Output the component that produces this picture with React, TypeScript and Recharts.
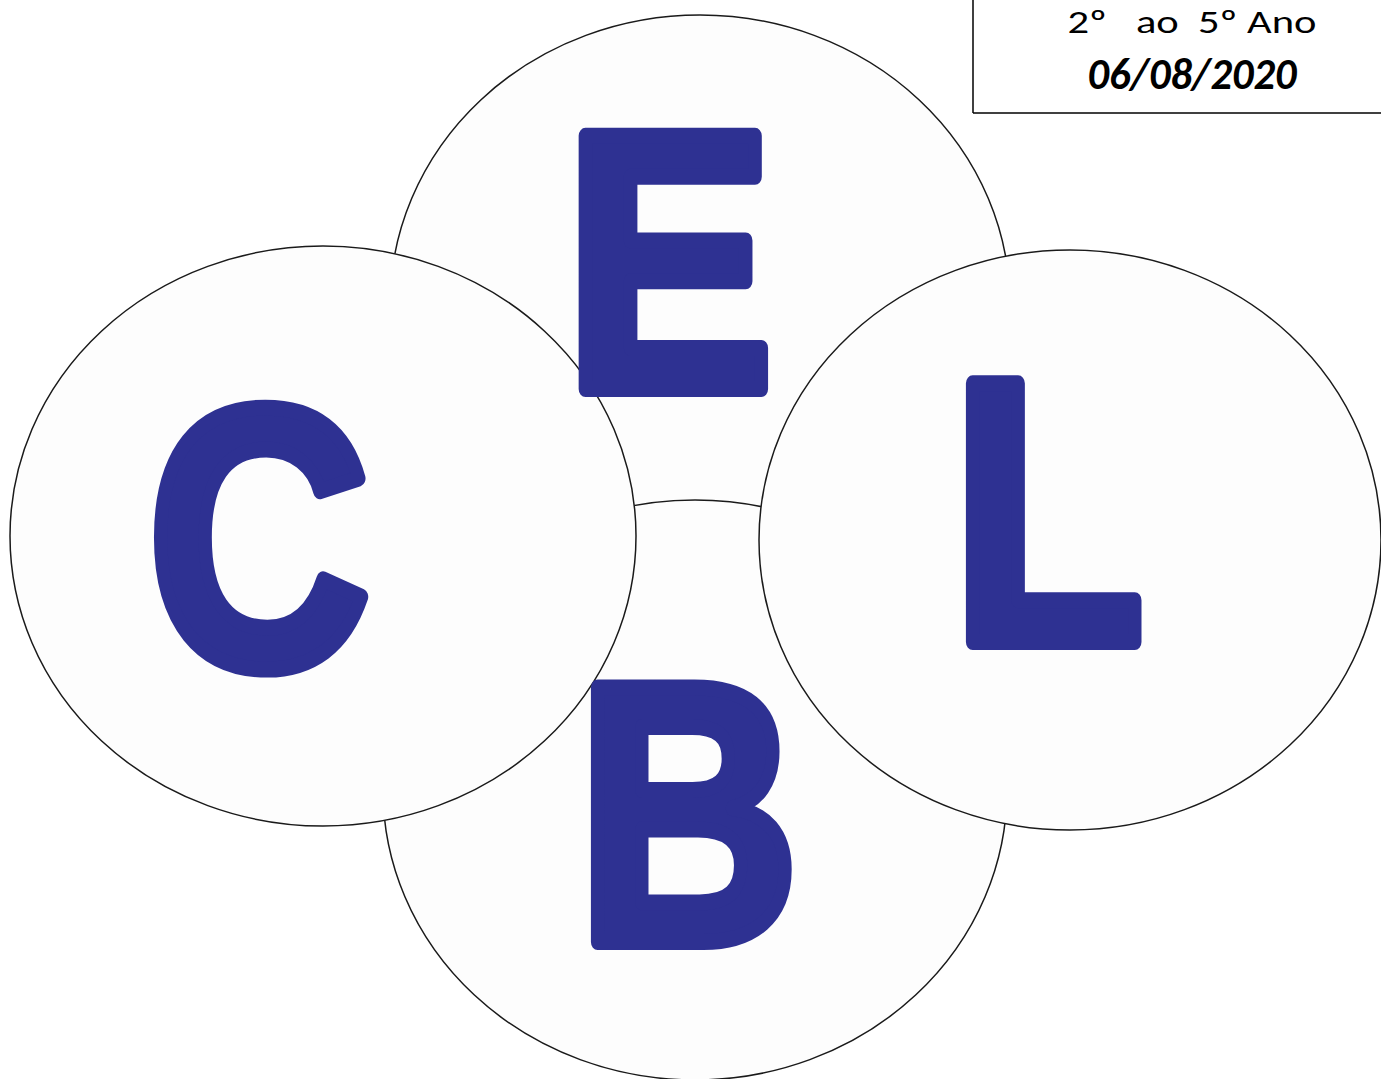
import { ScatterChart, Scatter, XAxis, YAxis, ReferenceLine } from 'recharts'

// circles in page pixels (domain = pixels, drawn in this order)
const circleNames = ['E', 'B', 'C', 'L']
const circleX = [700, 695, 323, 1070]
const circleY = [305, 790, 536, 540]
const circleRx = [310, 312, 313, 311]
const circleRy = [290, 290, 290, 290]

const letters = ['E', 'B', 'C', 'L']
const letterX = [669, 688, 259, 1048]
const letterY = [389, 942, 666, 642]
const letterWidth = [209, 222, 222, 193]
const letterSize = [368, 370, 370, 376]

const captionText = ['2º   ao  5º Ano', '06/08/2020']
const captionX = [1192, 1192]
const captionY = [33, 89]
const captionWidth = [249, 209]

const circles = circleNames.map((name, i) => ({
  name, x: circleX[i], y: circleY[i], rx: circleRx[i], ry: circleRy[i],
}))
const letterData = letters.map((t, i) => ({ t, x: letterX[i], y: letterY[i], w: letterWidth[i], s: letterSize[i] }))
const captionData = captionText.map((t, i) => ({ t, x: captionX[i], y: captionY[i], w: captionWidth[i], i }))

const Ellipse = (props: any) => (
  <ellipse cx={props.cx} cy={props.cy} rx={props.payload.rx} ry={props.payload.ry}
    fill="#fdfdfd" stroke="#1a1a1a" strokeWidth={1.5} />
)

const Letter = (props: any) => (
  <text x={props.cx} y={props.cy} textAnchor="middle" fontFamily="'Liberation Sans', Arial, sans-serif"
    fontWeight={700} fontSize={props.payload.s} fill="#2e3192" stroke="#2e3192" strokeWidth={16} strokeLinejoin="round"
    textLength={props.payload.w} lengthAdjust="spacingAndGlyphs">
    {props.payload.t}
  </text>
)

const Caption = (props: any) => {
  const first = props.payload.i === 0
  return (
    <text x={props.cx} y={props.cy} textAnchor="middle" fontFamily="Carlito, 'Liberation Sans', sans-serif"
      fontSize={first ? 33 : 44} fontWeight={first ? 400 : 700} fontStyle={first ? 'normal' : 'italic'}
      fill="#000" style={{ whiteSpace: 'pre' }}
      textLength={props.payload.w} lengthAdjust="spacingAndGlyphs">
      {props.payload.t}
    </text>
  )
}

export default function App() {
  return (
    <div style={{ position: 'absolute', left: 0, top: 0, width: 1381, height: 1079, background: '#fff' }}>
      <ScatterChart width={1381} height={1079} margin={{ top: 0, right: 0, bottom: 0, left: 0 }}>
        <XAxis type="number" dataKey="x" domain={[0, 1381]} hide />
        <YAxis type="number" dataKey="y" domain={[0, 1079]} reversed hide />
        <ReferenceLine segment={[{ x: 973, y: 0 }, { x: 973, y: 113 }]} stroke="#000" strokeWidth={1.5} ifOverflow="visible" />
        <ReferenceLine segment={[{ x: 973, y: 113 }, { x: 1381, y: 113 }]} stroke="#000" strokeWidth={1.5} ifOverflow="visible" />
        <Scatter data={circles} shape={Ellipse} isAnimationActive={false} />
        <Scatter data={letterData} shape={Letter} isAnimationActive={false} />
        <Scatter data={captionData} shape={Caption} isAnimationActive={false} />
      </ScatterChart>
    </div>
  )
}
